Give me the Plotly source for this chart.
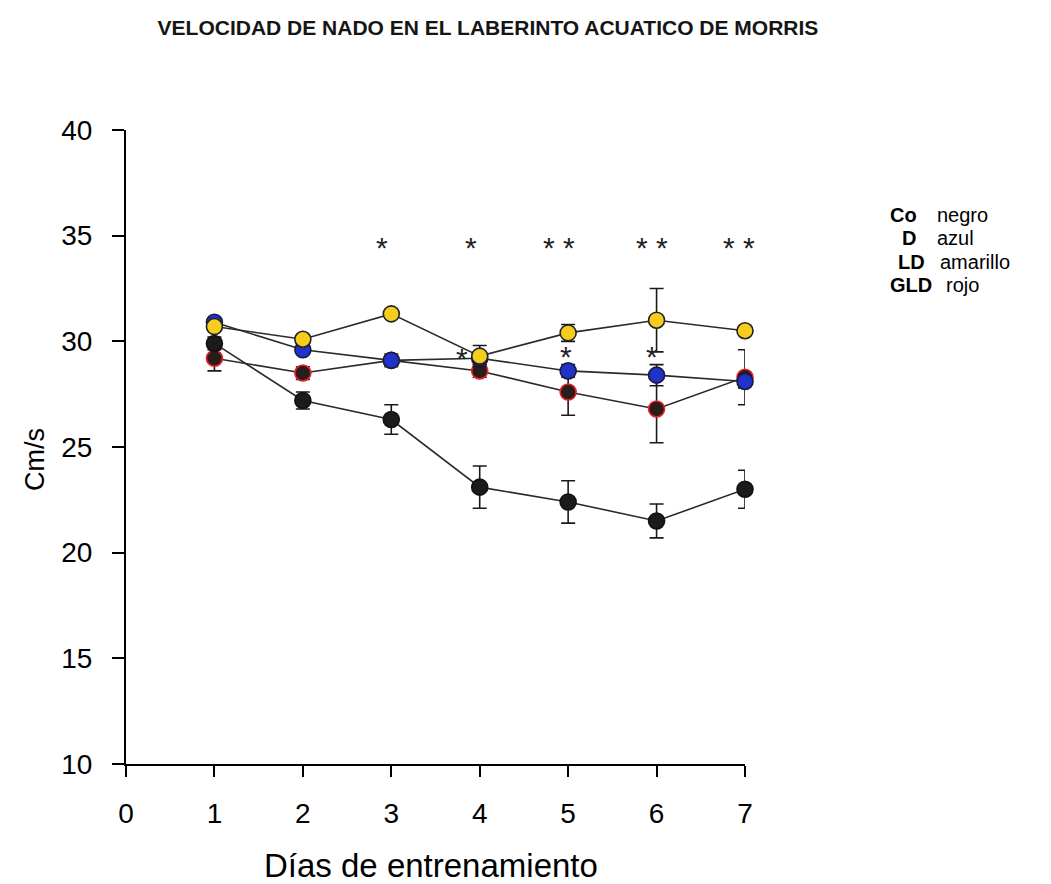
import plotly.graph_objects as go

days = [1, 2, 3, 4, 5, 6, 7]

co = [29.9, 27.2, 26.3, 23.1, 22.4, 21.5, 23.0]
co_err = [0.3, 0.4, 0.7, 1.0, 1.0, 0.8, 0.9]

d = [30.9, 29.6, 29.1, 29.2, 28.6, 28.4, 28.1]
d_err = [0.2, 0.2, 0.2, 0.3, 0.3, 0.5, 0.3]

ld = [30.7, 30.1, 31.3, 29.3, 30.4, 31.0, 30.5]
ld_err = [0.2, 0.2, 0.2, 0.5, 0.4, 1.5, 0.2]

gld = [29.2, 28.5, 29.1, 28.6, 27.6, 26.8, 28.3]
gld_err = [0.6, 0.3, 0.3, 0.3, 1.1, 1.6, 1.3]

star_x = [2.9, 3.9, 4.9, 5.95, 6.93, 3.8, 4.98, 5.95]
star_y = [34.45, 34.45, 34.45, 34.45, 34.45, 29.2, 29.3, 29.3]
star_text = ["*", "*", "* *", "* *", "* *", "*", "*", "*"]

legend_codes = ["Co", "D", "LD", "GLD"]
legend_names = ["negro", "azul", "amarillo", "rojo"]

x_ticks = [0, 1, 2, 3, 4, 5, 6, 7]
y_ticks = [10, 15, 20, 25, 30, 35, 40]

W, H = 1051, 884
L, R, T, B = 126, 306, 130, 120
PW, PH = W - L - R, H - T - B


def px_x(p):
    return (p - L) / PW


def px_y(p):
    return (H - B - p) / PH


fig = go.Figure()

series = [
    ("GLD", gld, gld_err, "#2b1c1c", "#e8252a"),
    ("Co", co, co_err, "#1b1b1b", "#111111"),
    ("D", d, d_err, "#1f33c8", "#1a1a40"),
    ("LD", ld, ld_err, "#f6cd1e", "#222222"),
]
for name, ys, errs, fill, edge in series:
    fig.add_trace(go.Scatter(
        x=days, y=ys, name=name, mode="lines+markers",
        line=dict(color="#2a2a2a", width=1.6),
        marker=dict(size=16, color=fill, line=dict(color=edge, width=1.6)),
        error_y=dict(type="data", array=errs, visible=True, color="#1a1a1a",
                     thickness=1.6, width=7),
        cliponaxis=False,
        showlegend=False,
    ))

for sx, sy, st in zip(star_x, star_y, star_text):
    fig.add_annotation(x=sx, y=sy, text=st, showarrow=False,
                       font=dict(size=30, color="#222222", family="Liberation Sans"))

code_x = [890, 902, 898, 890]
name_x = [937, 937, 940, 946]
row_y = [215, 238, 262, 285]
for c, n, cx, nx, ry in zip(legend_codes, legend_names, code_x, name_x, row_y):
    fig.add_annotation(xref="paper", yref="paper", x=px_x(cx), y=px_y(ry),
                       xanchor="left", yanchor="middle", text="<b>%s</b>" % c,
                       showarrow=False, xshift=-2,
                       font=dict(size=20, color="black", family="Liberation Sans"))
    fig.add_annotation(xref="paper", yref="paper", x=px_x(nx), y=px_y(ry),
                       xanchor="left", yanchor="middle", text=n, showarrow=False,
                       xshift=-2,
                       font=dict(size=20, color="black", family="Liberation Sans"))

# axis titles
fig.add_annotation(xref="paper", yref="paper", x=px_x(431), y=px_y(866),
                   xanchor="center", yanchor="middle", text="Días de entrenamiento",
                   showarrow=False,
                   font=dict(size=33, color="black", family="Liberation Sans"))
fig.add_annotation(xref="paper", yref="paper", x=px_x(35), y=px_y(460),
                   xanchor="center", yanchor="middle", text="Cm/s", textangle=-90,
                   showarrow=False,
                   font=dict(size=27, color="black", family="Liberation Sans"))

fig.update_layout(
    width=W, height=H,
    margin=dict(l=L, r=R, t=T, b=B),
    paper_bgcolor="white", plot_bgcolor="white",
    font=dict(family="Liberation Sans", color="black"),
    title=dict(text="<b>VELOCIDAD DE NADO EN EL LABERINTO ACUATICO DE MORRIS</b>",
               x=488 / W, xanchor="center", y=1 - 28 / H, yanchor="middle",
               font=dict(size=21, color="#151515", family="Liberation Sans")),
    xaxis=dict(range=[0, 7], tickvals=x_ticks, showgrid=False, zeroline=False,
               showline=True, linecolor="black", linewidth=2,
               ticks="outside", ticklen=11, tickwidth=1.5, tickcolor="black",
               tickfont=dict(size=28), ticklabelstandoff=12),
    yaxis=dict(range=[10, 40], tickvals=y_ticks, showgrid=False, zeroline=False,
               showline=True, linecolor="black", linewidth=2,
               ticks="outside", ticklen=12, tickwidth=1.5, tickcolor="black",
               tickfont=dict(size=28), ticklabelstandoff=14),
)

fig.write_html("out.html")
